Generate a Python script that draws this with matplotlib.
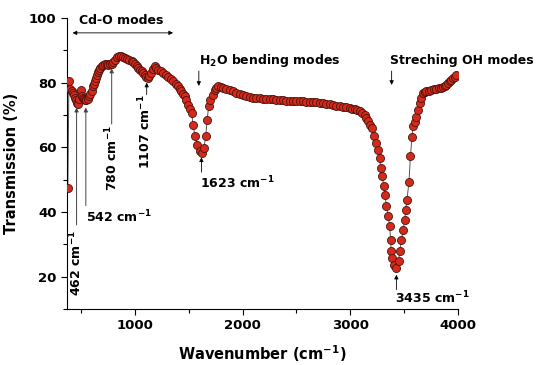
import matplotlib
matplotlib.use("Agg")
import matplotlib.pyplot as plt
from matplotlib.ticker import MultipleLocator, FixedLocator

wavenumber = [378, 388, 400, 413, 425, 434, 443, 455, 466, 474, 485, 496, 505, 515, 526, 536, 548, 562,
              576, 588, 598, 610, 620, 629, 637, 645, 657, 669, 680, 691, 707, 722, 737, 752, 768, 784,
              799, 814, 834, 854, 872, 891, 907, 923, 946, 969, 985, 1000, 1016, 1031, 1047, 1062, 1078,
              1093, 1106, 1118, 1132, 1146, 1166, 1186, 1201, 1216, 1240, 1263, 1286, 1309, 1332, 1355,
              1378, 1402, 1418, 1433, 1449, 1464, 1479, 1494, 1510, 1526, 1541, 1557, 1578, 1603, 1628,
              1640, 1659, 1671, 1686, 1702, 1721, 1742, 1757, 1773, 1796, 1819, 1850, 1881, 1912, 1943,
              1975, 2005, 2036, 2067, 2098, 2129, 2160, 2191, 2222, 2253, 2284, 2315, 2345, 2376, 2407,
              2438, 2469, 2500, 2530, 2561, 2592, 2623, 2654, 2685, 2715, 2746, 2778, 2809, 2840, 2870,
              2900, 2932, 2963, 2995, 3020, 3040, 3065, 3087, 3110, 3134, 3150, 3164, 3185, 3205, 3217,
              3236, 3257, 3273, 3282, 3298, 3310, 3319, 3335, 3350, 3366, 3375, 3380, 3391, 3406, 3428,
              3449, 3458, 3474, 3489, 3505, 3514, 3526, 3545, 3558, 3573, 3582, 3598, 3613, 3629, 3644,
              3660, 3675, 3690, 3706, 3729, 3752, 3775, 3799, 3822, 3845, 3860, 3876, 3891, 3906, 3922,
              3938, 3953, 3969, 3984]
transmission = [47.4, 80.4, 78.0, 77.3, 76.8, 76.3, 75.3, 74.5, 73.8, 73.5, 75.0, 77.6, 76.0, 75.3, 74.9,
                74.7, 74.6, 75.0, 75.8, 76.5, 77.3, 78.9, 79.7, 80.4, 81.5, 82.5, 83.3, 84.0, 84.6, 85.0,
                85.5, 85.9, 85.8, 85.6, 85.7, 85.9, 86.5, 87.1, 87.8, 88.3, 88.1, 87.9, 87.6, 87.3, 87.0,
                86.6, 86.3, 85.9, 85.2, 84.5, 84.0, 83.5, 83.0, 82.5, 81.9, 81.5, 82.2, 83.0, 84.2, 85.0,
                84.5, 84.0, 83.5, 83.0, 82.5, 81.9, 81.2, 80.4, 79.7, 78.9, 78.1, 77.3, 76.6, 75.8, 74.6,
                73.2, 72.0, 70.6, 67.0, 63.4, 60.8, 58.8, 58.3, 59.8, 63.4, 68.6, 72.7, 74.7, 76.3, 77.8,
                78.5, 78.9, 78.7, 78.4, 78.1, 77.8, 77.3, 76.8, 76.4, 76.1, 75.8, 75.6, 75.4, 75.3, 75.2,
                75.1, 75.0, 74.9, 74.8, 74.7, 74.6, 74.5, 74.4, 74.3, 74.3, 74.2, 74.2, 74.2, 74.1, 74.1,
                74.0, 73.9, 73.7, 73.6, 73.4, 73.3, 73.1, 72.9, 72.8, 72.6, 72.4, 72.2, 72.0, 71.8, 71.5,
                71.1, 70.6, 70.1, 69.1, 68.0, 67.0, 66.0, 63.4, 61.4, 59.1, 56.7, 53.6, 51.2, 47.9, 45.4,
                42.0, 38.9, 35.6, 31.2, 27.8, 25.8, 23.7, 22.7, 24.7, 27.8, 31.2, 34.5, 37.6, 40.5, 43.8,
                49.2, 57.2, 63.2, 66.5, 67.7, 69.4, 71.4, 73.7, 75.3, 76.8, 77.0, 77.3, 77.5, 77.8, 77.9,
                78.1, 78.2, 78.4, 78.6, 78.9, 79.4, 79.9, 80.4, 80.9, 81.4, 81.9, 82.5]

x_major = [1000, 2000, 3000, 4000]
x_minor = [500, 1500, 2500, 3500]
y_major = [20, 40, 60, 80, 100]

plt.rcParams['font.family'] = ['DejaVu Sans']
fig = plt.figure(figsize=(5.38, 3.65), dpi=100)
ax = fig.add_axes([0.1245, 0.1534, 0.7268, 0.7973])

ax.plot(wavenumber, transmission, '-', color='#555555', lw=0.7, zorder=2)
ax.plot(wavenumber, transmission, 'o', ms=5.8, mfc='#d42a1c', mec='#4a120a', mew=0.6, zorder=3)

ax.set_xlim(370, 4000)
ax.set_ylim(10, 100)
ax.spines['top'].set_visible(False)
ax.spines['right'].set_visible(False)
ax.xaxis.set_major_locator(FixedLocator(x_major))
ax.xaxis.set_minor_locator(FixedLocator(x_minor))
ax.yaxis.set_major_locator(FixedLocator(y_major))
ax.yaxis.set_minor_locator(MultipleLocator(10))
ax.tick_params(which='major', length=4, width=0.8, labelsize=9.5)
ax.tick_params(which='minor', length=3, width=0.8)
for lab in ax.get_xticklabels() + ax.get_yticklabels():
    lab.set_fontweight('bold')

ax.set_xlabel('Wavenumber (cm$^{\\mathbf{-1}}$)', fontsize=10.5, fontweight='bold', labelpad=8)
ax.set_ylabel('Transmission (%)', fontsize=10.5, fontweight='bold', labelpad=7)

bold = dict(fontweight='bold', fontsize=9)
arrow = dict(arrowstyle='-|>', color='black', lw=0.6, mutation_scale=6, shrinkA=0, shrinkB=0)
garrow = dict(arrowstyle='-|>', color='#444444', lw=0.7, mutation_scale=6, shrinkA=0, shrinkB=0)

# Cd-O modes
ax.annotate('', xy=(422, 95.4), xytext=(1355, 95.4),
            arrowprops=dict(arrowstyle='<|-|>', color='black', lw=0.6, mutation_scale=6,
                            shrinkA=0, shrinkB=0), annotation_clip=False)
ax.text(870, 99.2, 'Cd-O modes', ha='center', va='center', clip_on=False, **bold)

# H2O bending
ax.text(1600, 87.0, 'H$_\\mathbf{2}$O bending modes', ha='left', va='center', **bold)
ax.annotate('', xy=(1594, 79.0), xytext=(1594, 83.6), arrowprops=arrow)

# OH stretching
ax.text(3370, 87.0, 'Streching OH modes', ha='left', va='center', **bold)
ax.annotate('', xy=(3384, 79.3), xytext=(3384, 83.6), arrowprops=arrow)

# 462
ax.annotate('', xy=(459, 72.3), xytext=(459, 36.0), arrowprops=garrow)
ax.text(450, 34.5, '462 cm$^{\\mathbf{-1}}$', rotation=90, ha='center', va='top', **bold)
# 542
ax.annotate('', xy=(545, 72.3), xytext=(545, 42.0), arrowprops=garrow)
ax.text(545, 38.6, '542 cm$^{\\mathbf{-1}}$', ha='left', va='center', **bold)
# 780
ax.annotate('', xy=(785, 84.4), xytext=(785, 67.2), arrowprops=garrow)
ax.text(785, 67.0, '780 cm$^{\\mathbf{-1}}$', rotation=90, ha='center', va='top', **bold)
# 1107
ax.annotate('', xy=(1110, 80.0), xytext=(1110, 76.3), arrowprops=arrow)
ax.text(1095, 76.3, '1107 cm$^{\\mathbf{-1}}$', rotation=90, ha='center', va='top', **bold)
# 1623
ax.annotate('', xy=(1618, 56.9), xytext=(1618, 52.3), arrowprops=arrow)
ax.text(1603, 49.1, '1623 cm$^{\\mathbf{-1}}$', ha='left', va='center', **bold)
# 3435
ax.annotate('', xy=(3428, 20.6), xytext=(3428, 16.0), arrowprops=arrow)
ax.text(3412, 13.5, '3435 cm$^{\\mathbf{-1}}$', ha='left', va='center', **bold)

fig.savefig('out.png', dpi=100)
